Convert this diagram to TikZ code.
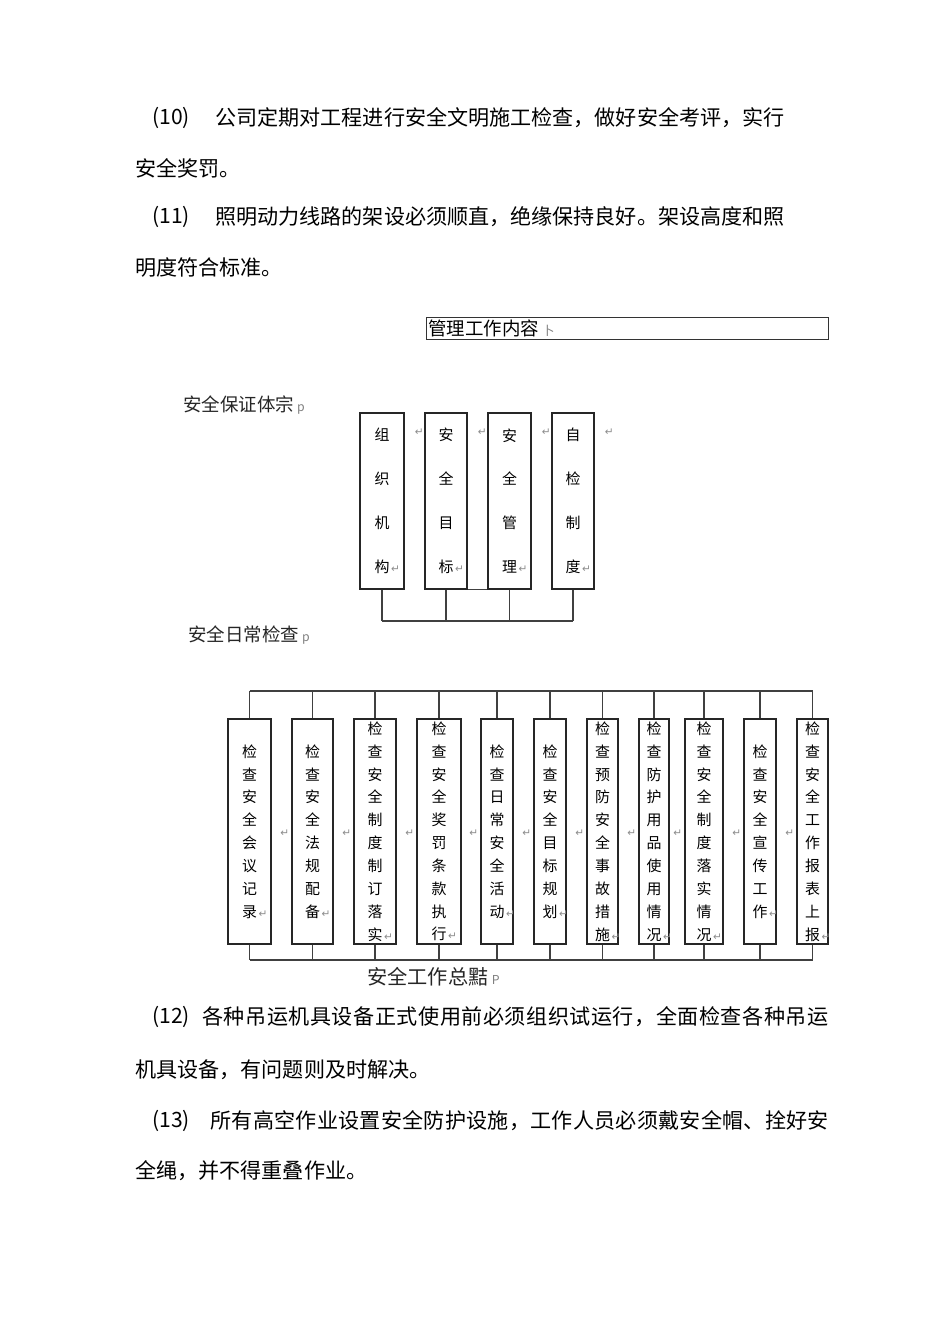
\documentclass[tikz,border=0pt]{standalone}
\usepackage{fontspec}
\setmainfont{Noto Sans CJK SC}
\newfontfamily\retfont{DejaVu Sans}
\newcommand\retmk{\rlap{\kern1pt{\retfont\fontsize{6}{6}\selectfont\color{black!45}↵}}}
\newcommand\tailmk[1]{{\fontsize{7}{7}\selectfont\color{black!50}#1}}
\begin{document}
\begin{tikzpicture}[
    x=0.02cm, y=-0.02cm,
    bodytxt/.style={font=\fontsize{12}{14}\selectfont, anchor=west, inner sep=0pt},
    headlbl/.style={font=\fontsize{10.5}{12}\selectfont, anchor=west, inner sep=0pt, text=black!85},
    colbox/.style={draw=black!85, line width=0.6pt, inner sep=0pt, align=center},
    rail/.style={draw=black!75, line width=0.8pt},
    retmark/.style={font=\retfont\fontsize{6}{6}\selectfont, text=black!45, inner sep=0pt}
  ]
  \path[fill=white, use as bounding box] (0,0) rectangle (950,1344);
  \foreach \x/\y/\txt [count=\i] in {%
    152/118/(10),
    215/118/公司定期对工程进行安全文明施工检查，做好安全考评，实行,
    135/168/安全奖罚。,
    152/217/(11),
    215/217/照明动力线路的架设必须顺直，绝缘保持良好。架设高度和照,
    135/268/明度符合标准。,
    152/1017/(12),
    202/1017/{\addfontfeature{LetterSpace=2.5}各种吊运机具设备正式使用前必须组织试运行，全面检查各种吊运},
    135/1070/机具设备，有问题则及时解决。,
    152/1121/(13),
    210/1121/{\addfontfeature{LetterSpace=1.2}所有高空作业设置安全防护设施，工作人员必须戴安全帽、拴好安},
    135/1171/全绳，并不得重叠作业。%
  }{
    \node[bodytxt] (ln\i) at (\x,\y) {\txt};
  }
  \node[draw=black!80, line width=0.6pt, anchor=north west, inner xsep=0.04cm, inner ysep=0pt,
    minimum width=8.04cm, minimum height=0.44cm, text width=7.96cm, align=left,
    font=\fontsize{10.5}{12}\selectfont] (mgmt) at (426,317) {管理工作内容\,\tailmk{卜}};
  \node[headlbl] (guar) at (183,405) {安全保证体宗\,\tailmk{p}};
  \node[headlbl] (daily) at (188,635) {安全日常检查\,\tailmk{p}};
  \node[headlbl, font=\fontsize{11.5}{13}\selectfont] (summ) at (367,977) {安全工作总黠\,\tailmk{P}};
  \def\th{176}
  \foreach \name/\cx/\w/\txt in {%
    t1/382/44/{组\\织\\机\\构},
    t2/446/42/{安\\全\\目\\标},
    t3/509.5/43/{安\\全\\管\\理},
    t4/573/42/{自\\检\\制\\度}%
  }{
    \node[colbox, font=\fontsize{8.5}{25}\selectfont, minimum width={\w*0.02cm},
      minimum height={\th*0.02cm}] (\name) at (\cx,501) {\txt\retmk};
    \node[retmark, anchor=west] (\name r) at ([shift={(10,20)}]\name.north east) {↵};
  }
  \coordinate (tbus) at (0,621);
  \foreach \name in {t1,t2,t3,t4}
    \draw[rail] (\name.south) -- (\name.south |- tbus);
  \draw[rail] (t1.south |- tbus) -- (t4.south |- tbus);
  \draw[rail] (t2.south east) -- (t3.south west);
  \def\bh{225}
  \foreach \name/\cx/\w/\txt in {%
    b1/249.5/43/{检\\查\\安\\全\\会\\议\\记\\录},
    b2/312.5/41/{检\\查\\安\\全\\法\\规\\配\\备},
    b3/375/42/{检\\查\\安\\全\\制\\度\\制\\订\\落\\实},
    b4/439/44/{检\\查\\安\\全\\奖\\罚\\条\\款\\执\\行},
    b5/497/32/{检\\查\\日\\常\\安\\全\\活\\动},
    b6/550/32/{检\\查\\安\\全\\目\\标\\规\\划},
    b7/602.5/31/{检\\查\\预\\防\\安\\全\\事\\故\\措\\施},
    b8/654/30/{检\\查\\防\\护\\用\\品\\使\\用\\情\\况},
    b9/704/38/{检\\查\\安\\全\\制\\度\\落\\实\\情\\况},
    b10/760/32/{检\\查\\安\\全\\宣\\传\\工\\作},
    b11/812.5/31/{检\\查\\安\\全\\工\\作\\报\\表\\上\\报}%
  }{
    \node[colbox, font=\fontsize{8.5}{13}\selectfont, minimum width={\w*0.02cm},
      minimum height={\bh*0.02cm}] (\name) at (\cx,831.5) {\txt\retmk};
  }
  \coordinate (topbus) at (0,691);
  \coordinate (botbus) at (0,960);
  \foreach \i in {1,...,11} {
    \draw[rail] (b\i.north) -- (b\i.north |- topbus);
    \draw[rail] (b\i.south) -- (b\i.south |- botbus);
  }
  \draw[rail] (b1.north |- topbus) -- (b11.north |- topbus);
  \draw[rail] (b1.south |- botbus) -- (b11.south |- botbus);
  \foreach \i in {2,...,11}
    \node[retmark, anchor=east] (b\i r) at ([shift={(-2,2)}]b\i.west) {↵};
\end{tikzpicture}
\end{document}
